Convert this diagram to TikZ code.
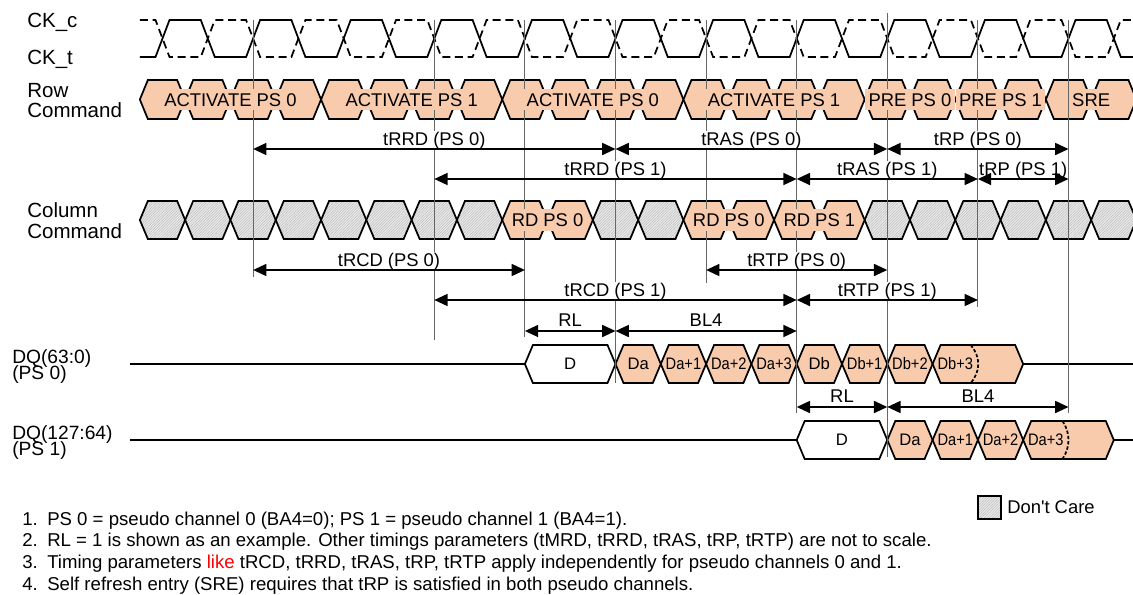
\documentclass[tikz,border=0pt]{standalone}
\usepackage{fontspec}
\setmainfont{Liberation Sans}
\usepackage{tikz}
\usetikzlibrary{arrows.meta,patterns.meta}

\definecolor{cmdorange}{RGB}{248,203,173}

% one hexagon cell: style, left point, right point, top, bottom
\newcommand{\hexcell}[5]{%
  \draw[#1] (#2,{(#4+#5)/2}) -- ({#2+8},#4) -- ({#3-8},#4) -- (#3,{(#4+#5)/2}) -- ({#3-8},#5) -- ({#2+8},#5) -- cycle;}
% tight two line font for the DQ names
\newcommand{\dqnamefont}{\fontsize{14.4}{12}\selectfont\lineskiplimit=-100pt\relax}

\tikzset{
  clk/.style={line width=1.3pt},
  cmdcell/.style={draw=black, line width=1.3pt, fill=cmdorange},
  dccell/.style={draw=black, line width=1.3pt, preaction={fill=gray!18}, pattern={Lines[angle=45,distance=1.4pt,line width=0.25pt]}, pattern color=gray!60},
  gridline/.style={draw=black!60, line width=0.75pt},
  timearrow/.style={line width=1.3pt, {Triangle[length=10pt,width=9pt]}-{Triangle[length=10pt,width=9pt]}},
  tlabel/.style={fill=white, inner sep=0.5pt, anchor=base},
  cmdtext/.style={fill=cmdorange, inner xsep=2.5pt, inner ysep=3pt, text height=10pt, text depth=0pt},
  sigtext/.style={anchor=base west, inner sep=0pt, font=\fontsize{15.4}{18}\selectfont},
  dqname/.style={anchor=base west, inner sep=0pt, align=left, font=\dqnamefont},
  dqtext/.style={inner sep=0pt, font=\fontsize{12.5}{14}\selectfont},
  notetext/.style={anchor=base west, inner sep=0pt, font=\fontsize{13.95}{16.5}\selectfont}
}

\begin{document}
\begin{tikzpicture}[x=0.75pt,y=0.75pt,yscale=-1,xscale=1,font=\fontsize{13.8}{16}\selectfont]
\useasboundingbox (0,0) rectangle (1133,594);

% clock edges
\foreach \k in {0,...,21} \coordinate (c\k) at ({162.5+45.3*\k},0);

%Clock CK_t
\draw[clk] (139.85,57) \foreach \k in {0,...,21}{ -- ({162.5+45.3*\k-7},{57-37*mod(\k,2)}) -- ({162.5+45.3*\k+7},{20+37*mod(\k,2)}) } -- (1133,57);
%Clock CK_c
\draw[clk, dash pattern=on 6pt off 3.5pt] (139.85,20) \foreach \k in {0,...,21}{ -- ({162.5+45.3*\k-7},{20+37*mod(\k,2)}) -- ({162.5+45.3*\k+7},{57-37*mod(\k,2)}) } -- (1133,20);

%Row command cells
\foreach \j in {0,...,21}{
  \pgfmathsetmacro\xa{139.85+45.3*\j}
  \pgfmathsetmacro\xb{\xa+45.3}
  \hexcell{cmdcell}{\xa}{\xb}{80}{119}
}
%Column command cells
\foreach \j in {0,...,7,10,11,16,17,...,21}{
  \pgfmathsetmacro\xa{139.85+45.3*\j}
  \pgfmathsetmacro\xb{\xa+45.3}
  \hexcell{dccell}{\xa}{\xb}{201}{239}
}
\foreach \j in {8,9,12,13,14,15}{
  \pgfmathsetmacro\xa{139.85+45.3*\j}
  \pgfmathsetmacro\xb{\xa+45.3}
  \hexcell{cmdcell}{\xa}{\xb}{201}{239}
}

%DQ(63:0)
\draw[clk] (130,364) -- (524.9,364);
\draw[clk] (1023.2,364) -- (1133,364);
\hexcell{cmdcell, fill=white}{524.9}{615.5}{345}{383}
\node[dqtext] (dq0d) at (570.2,364) {D};
\foreach \lab/\sc [count=\i from 0] in {Da/1,Da+1/0.88,Da+2/0.88,Da+3/0.88,Db/1,Db+1/0.88,Db+2/0.88}{
  \pgfmathsetmacro\xa{615.5+45.3*\i}
  \pgfmathsetmacro\xb{\xa+45.3}
  \hexcell{cmdcell}{\xa}{\xb}{345}{383}
  \node[dqtext] (dq0c\i) at ({\xa+22.65},364) {\scalebox{\sc}[1]{\lab}};
}
\hexcell{cmdcell}{932.6}{1023.2}{345}{383}
\node[dqtext] (dq0c7) at (955.25,364) {\scalebox{0.88}[1]{Db+3}};
\draw[line width=1.3pt, dash pattern=on 2.5pt off 1.5pt] (970.7,345) .. controls (980.8,357) and (980.8,371) .. (970.7,383);

%DQ(127:64)
\draw[clk] (130,440) -- (796.7,440);
\draw[clk] (1113.8,440) -- (1133,440);
\hexcell{cmdcell, fill=white}{796.7}{887.3}{421}{459}
\node[dqtext] (dq1d) at (842,440) {D};
\foreach \lab/\sc [count=\i from 0] in {Da/1,Da+1/0.88,Da+2/0.88}{
  \pgfmathsetmacro\xa{887.3+45.3*\i}
  \pgfmathsetmacro\xb{\xa+45.3}
  \hexcell{cmdcell}{\xa}{\xb}{421}{459}
  \node[dqtext] (dq1c\i) at ({\xa+22.65},440) {\scalebox{\sc}[1]{\lab}};
}
\hexcell{cmdcell}{1023.2}{1113.8}{421}{459}
\node[dqtext] (dq1c3) at (1045.85,440) {\scalebox{0.88}[1]{Da+3}};
\draw[line width=1.3pt, dash pattern=on 2.5pt off 1.5pt] (1062.5,421) .. controls (1070.5,433) and (1070.5,447) .. (1062.5,459);

%Straight Lines (clock edge markers)
\draw[gridline] (c2 |- 0,20) -- (c2 |- 0,277);
\draw[gridline] (c6 |- 0,20) -- (c6 |- 0,340);
\draw[gridline] (c8 |- 0,20) -- (c8 |- 0,337);
\draw[gridline] (c10 |- 0,20) -- (c10 |- 0,383);
\draw[gridline] (c12 |- 0,20) -- (c12 |- 0,283);
\draw[gridline] (c14 |- 0,20) -- (c14 |- 0,413);
\draw[gridline] (c16 |- 0,13) -- (c16 |- 0,457);
\draw[gridline] (c18 |- 0,20) -- (c18 |- 0,307);
\draw[gridline] (c20 |- 0,20) -- (c20 |- 0,413);

% Text Node (commands)
\node[cmdtext] (act0a) at (230.45,99.5) {ACTIVATE PS 0};
\node[cmdtext] (act1a) at (411.65,99.5) {ACTIVATE PS 1};
\node[cmdtext] (act0b) at (592.85,99.5) {ACTIVATE PS 0};
\node[cmdtext] (act1b) at (774.05,99.5) {ACTIVATE PS 1};
\node[cmdtext] (pre0) at (909.95,99.5) {PRE PS 0};
\node[cmdtext] (pre1) at (1000.55,99.5) {PRE PS 1};
\node[cmdtext] (sre) at (1091.15,99.5) {SRE};
\node[cmdtext] (rd0a) at (547.55,220) {RD PS 0};
\node[cmdtext] (rd0b) at (728.75,220) {RD PS 0};
\node[cmdtext] (rd1) at (819.35,220) {RD PS 1};

% Text Node (timing labels)
\path (c2 |- 0,145) -- node[tlabel] (lrrd0) {tRRD (PS 0)} (c10 |- 0,145);
\path (c10 |- 0,145) -- node[tlabel] (lras0) {tRAS (PS 0)} (c16 |- 0,145);
\path (c16 |- 0,145) -- node[tlabel] (lrp0) {tRP (PS 0)} (c20 |- 0,145);
\path (c6 |- 0,175) -- node[tlabel] (lrrd1) {tRRD (PS 1)} (c14 |- 0,175);
\path (c14 |- 0,175) -- node[tlabel] (lras1) {tRAS (PS 1)} (c18 |- 0,175);
\path (c18 |- 0,175) -- node[tlabel] (lrp1) {tRP (PS 1)} (c20 |- 0,175);
\path (c2 |- 0,266) -- node[tlabel] (lrcd0) {tRCD (PS 0)} (c8 |- 0,266);
\path (c12 |- 0,266) -- node[tlabel] (lrtp0) {tRTP (PS 0)} (c16 |- 0,266);
\path (c6 |- 0,296) -- node[tlabel] (lrcd1) {tRCD (PS 1)} (c14 |- 0,296);
\path (c14 |- 0,296) -- node[tlabel] (lrtp1) {tRTP (PS 1)} (c18 |- 0,296);
\path (c8 |- 0,326) -- node[tlabel] (lrl0) {RL} (c10 |- 0,326);
\path (c10 |- 0,326) -- node[tlabel] (lbl0) {BL4} (c14 |- 0,326);
\path (c14 |- 0,402) -- node[tlabel] (lrl1) {RL} (c16 |- 0,402);
\path (c16 |- 0,402) -- node[tlabel] (lbl1) {BL4} (c20 |- 0,402);

%Straight Lines (timing arrows)
\draw[timearrow] (c2 |- 0,149) -- (c10 |- 0,149);
\draw[timearrow] (c10 |- 0,149) -- (c16 |- 0,149);
\draw[timearrow] (c16 |- 0,149) -- (c20 |- 0,149);
\draw[timearrow] (c6 |- 0,179) -- (c14 |- 0,179);
\draw[timearrow] (c14 |- 0,179) -- (c18 |- 0,179);
\draw[timearrow] (c18 |- 0,179) -- (c20 |- 0,179);
\draw[timearrow] (c2 |- 0,270) -- (c8 |- 0,270);
\draw[timearrow] (c12 |- 0,270) -- (c16 |- 0,270);
\draw[timearrow] (c6 |- 0,300) -- (c14 |- 0,300);
\draw[timearrow] (c14 |- 0,300) -- (c18 |- 0,300);
\draw[timearrow] (c8 |- 0,331) -- (c10 |- 0,331);
\draw[timearrow] (c10 |- 0,331) -- (c14 |- 0,331);
\draw[timearrow] (c14 |- 0,407) -- (c16 |- 0,407);
\draw[timearrow] (c16 |- 0,407) -- (c20 |- 0,407);

% Text Node (signal names)
\node[sigtext] (ckc) at (27,27) {CK\_c};
\node[sigtext] (ckt) at (27,64) {CK\_t};
\node[sigtext] (rowa) at (27,97) {Row};
\node[sigtext] (rowb) at (27,117) {Command};
\node[sigtext] (cola) at (27,217) {Column};
\node[sigtext] (colb) at (27,238) {Command};
\node[dqname] (dq0name) at (12,379) {DQ(63:0)\\(PS 0)};
\node[dqname] (dq1name) at (12,455) {DQ(127:64)\\(PS 1)};

% Legend
\node[dccell, minimum width=17pt, minimum height=17pt, inner sep=0pt] (dckey) at (989.5,507.5) {};
\node[anchor=west, inner sep=0pt] (dclabel) at (1007,507.5) {Don\textquotesingle t Care};

% Text Node (notes)
\node[notetext] (note1) at (22,525) {\makebox[18.75pt][l]{1.}PS 0 = pseudo channel 0 (BA4=0); PS 1 = pseudo channel 1 (BA4=1).};
\node[notetext] (note2) at (22,546.7) {\makebox[18.75pt][l]{2.}RL = 1 is shown as an example. Other timings parameters (tMRD, tRRD, tRAS, tRP, tRTP) are not to scale.};
\node[notetext] (note3) at (22,568.3) {\makebox[18.75pt][l]{3.}Timing parameters \textcolor{red}{like} tRCD, tRRD, tRAS, tRP, tRTP apply independently for pseudo channels 0 and 1.};
\node[notetext] (note4) at (22,590) {\makebox[18.75pt][l]{4.}Self refresh entry (SRE) requires that tRP is satisfied in both pseudo channels.};

\end{tikzpicture}
\end{document}
